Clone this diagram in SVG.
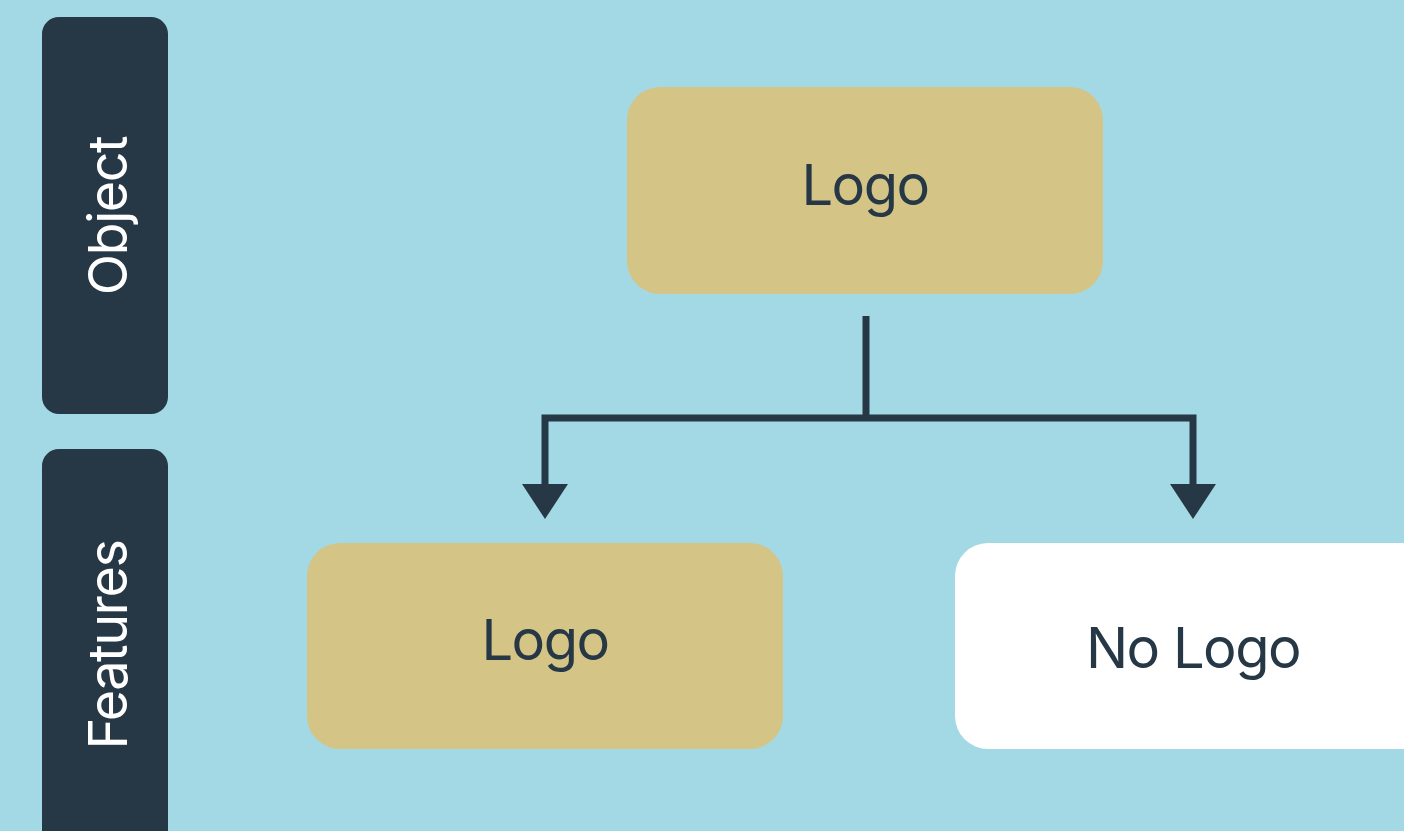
<svg xmlns="http://www.w3.org/2000/svg" width="1404" height="831" viewBox="0 0 1404 831">
  <defs>
    <style>
      .band { fill: #263746; }
      .band-label { fill: #ffffff; font-family: Inter, "Noto Sans", sans-serif; font-size: 54px; letter-spacing: -1.5px; text-anchor: middle; }
      .tan { fill: #d4c486; }
      .white { fill: #ffffff; }
      .label { fill: #263746; font-family: Inter, "Noto Sans", sans-serif; font-size: 56px; letter-spacing: -1.5px; text-anchor: middle; }
      .wire { fill: none; stroke: #263746; stroke-width: 7; }
      .head { fill: #263746; }
    </style>
  </defs>
  <rect width="1404" height="831" fill="#a3d9e4"/>

  <g id="band-object">
    <rect class="band" x="42" y="17" width="126" height="397" rx="17"/>
    <text class="band-label" transform="translate(127,216) rotate(-90)">Object</text>
  </g>
  <g id="band-features">
    <rect class="band" x="42" y="449" width="126" height="400" rx="17"/>
    <text class="band-label" transform="translate(127,645) rotate(-90)">Features</text>
  </g>

  <g id="node-logo-top">
    <rect class="tan" x="627" y="87" width="476" height="207" rx="33"/>
    <text class="label" x="865" y="205">Logo</text>
  </g>
  <g id="node-logo">
    <rect class="tan" x="307" y="543" width="476" height="206" rx="33"/>
    <text class="label" x="545" y="660">Logo</text>
  </g>
  <g id="node-no-logo">
    <rect class="white" x="955" y="543" width="480" height="206" rx="33"/>
    <text class="label" x="1193" y="668">No Logo</text>
  </g>

  <g id="connectors">
    <path class="wire" d="M866 316 V418"/>
    <path class="wire" d="M545 486 V418 H1193 V486"/>
    <polygon class="head" points="522,484 568,484 545,519"/>
    <polygon class="head" points="1170,484 1216,484 1193,519"/>
  </g>
</svg>
